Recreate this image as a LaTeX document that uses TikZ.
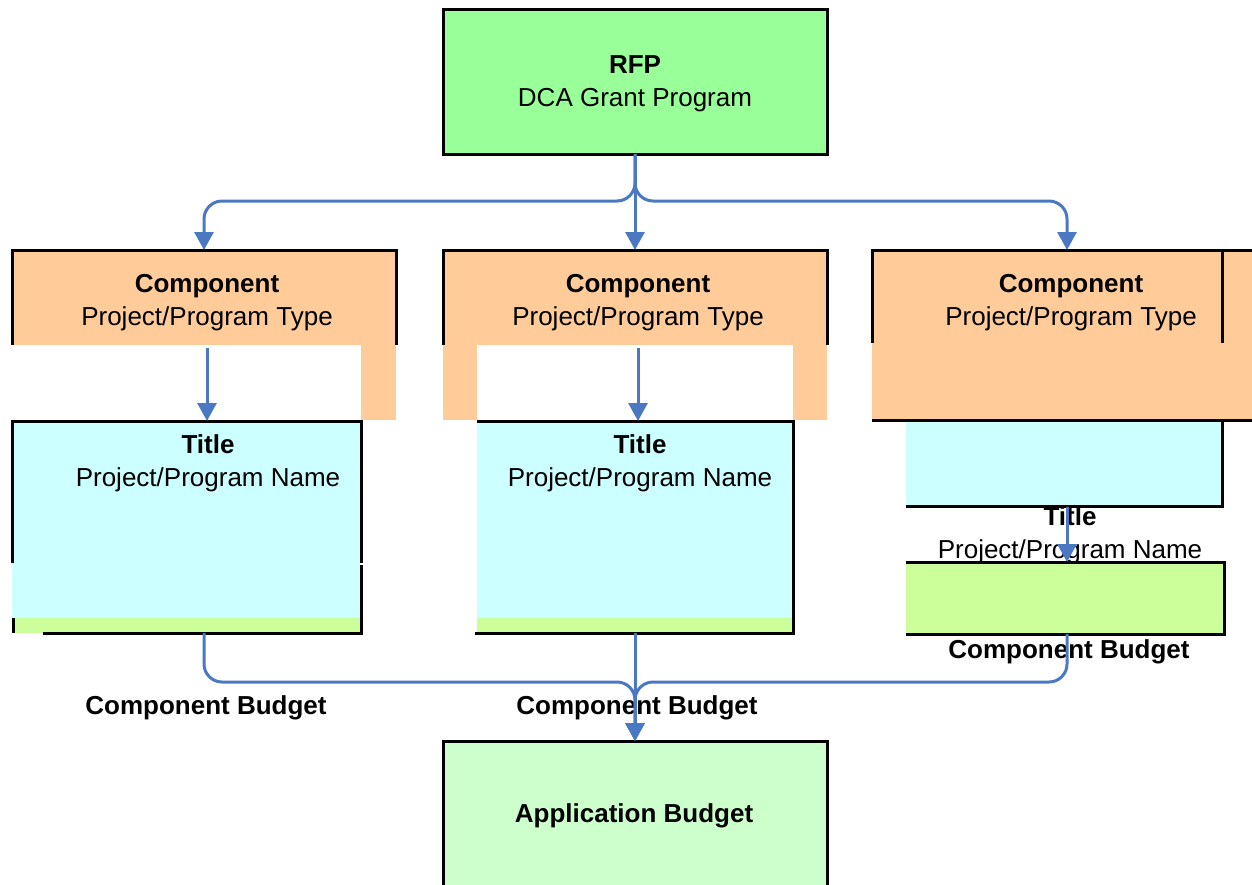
\documentclass[tikz,border=0pt]{standalone}
\usepackage{fontspec}
\setmainfont{Liberation Sans}
\usetikzlibrary{arrows.meta}
\definecolor{rfpg}{HTML}{99FF99}
\definecolor{compo}{HTML}{FFCC99}
\definecolor{titc}{HTML}{CCFFFF}
\definecolor{budg}{HTML}{CCFF99}
\definecolor{appg}{HTML}{CCFFCC}
\definecolor{arrowblue}{HTML}{4A78C2}
\tikzset{
  bord/.style={line width=3pt, draw=black},
  conn/.style={line width=3pt, draw=arrowblue, rounded corners=18pt, -{Triangle[length=18pt,width=19pt]}},
  lbl/.style={font=\fontsize{26}{33}\selectfont, align=center, inner sep=0pt},
  blbl/.style={font=\fontsize{26}{33}\selectfont\bfseries, align=center, inner sep=0pt},
  fillbox/.style={inner sep=0pt, outer sep=0pt, draw=none}
}
\begin{document}
\begin{tikzpicture}[x=1pt,y=-1pt]
\useasboundingbox (0,0) rectangle (1252,884);
% RFP
\node[fillbox, fill=rfpg, bord, minimum width=384pt, minimum height=145pt] (rfp) at (635,81.5) {};
\node[lbl] (rfpt) at (635,84) {\textbf{RFP}\\DCA Grant Program};
% Component 1
\node[fillbox, fill=compo, minimum width=384pt, minimum height=95pt] (c1) at (204,297.5) {};
\fill[compo] (361,345) rectangle (396,420);
\draw[bord] (c1.south west) -- (c1.north west) -- (c1.north east) -- (c1.south east);
\node[lbl] (c1t) at (207,303) {\textbf{Component}\\Project/Program Type};
% Component 2
\node[fillbox, fill=compo, minimum width=384pt, minimum height=95pt] (c2) at (635,297.5) {};
\fill[compo] (443,345) rectangle (477,420);
\fill[compo] (793,345) rectangle (827,420);
\draw[bord] (c2.south west) -- (c2.north west) -- (c2.north east) -- (c2.south east);
\node[lbl] (c2t) at (638,303) {\textbf{Component}\\Project/Program Type};
% Title 1
\node[fillbox, fill=titc, minimum width=349pt, minimum height=197pt] (t1) at (186.5,519.5) {};
\node[fillbox, fill=budg, minimum width=349pt, minimum height=15pt] (gb1) at (186.5,625.5) {};
\draw[bord] (12,563) -- (12,421) -- (361,421) -- (361,563);
\draw[bord] (361,565) -- (361,635);
\draw[bord] (13.5,618) -- (13.5,633);
\draw[bord] (43,633) -- (362,633);
\node[lbl] (t1t) at (208,463) {\textbf{Title}\\Project/Program Name};
% Title 2
\node[fillbox, fill=titc, minimum width=316pt, minimum height=197pt] (t2) at (635,519.5) {};
\node[fillbox, fill=budg, minimum width=316pt, minimum height=15pt] (gb2) at (635,625.5) {};
\draw[bord] (477,421) -- (793,421) -- (793,633) -- (475,633);
\node[lbl] (t2t) at (640,463) {\textbf{Title}\\Project/Program Name};
% Column 3
\node[fillbox, fill=titc, minimum width=316pt, minimum height=88pt] (t3) at (1064,463) {};
\draw[bord] (906,506) -- (1222,506) -- (1222,420);
\node[fillbox, fill=compo, minimum width=380pt, minimum height=170pt] (c3) at (1062,335) {};
\draw[bord] (872,343) -- (872,250) -- (1253,250);
\draw[bord] (1222,250) -- (1222,343);
\draw[bord] (872,420) -- (1253,420);
\node[lbl] (c3t) at (1071,303) {\textbf{Component}\\Project/Program Type};
\node[lbl] (t3t) at (1070,535.5) {\textbf{Title}\\Project/Program Name};
\node[fillbox, fill=budg, minimum width=318pt, minimum height=72pt] (g3) at (1065,598) {};
\draw[bord] (906,562) -- (1224,562) -- (1224,634) -- (906,634);
% Application budget
\node[fillbox, fill=appg, bord, minimum width=384pt, minimum height=146pt] (ab) at (635,814) {};
\node[blbl] (abt) at (634,816) {Application Budget};
% labels
\node[blbl] (cb1) at (206,708) {Component Budget};
\node[blbl] (cb2) at (637,708) {Component Budget};
\node[blbl] (cb3) at (1069,652) {Component Budget};
% connectors
\coordinate (jt) at (635,201);
\coordinate (jb) at (635,682);
\draw[conn] (rfp.south) -- (jt) -- (jt -| c1.north) -- (c1.north);
\draw[conn] (rfp.south) -- (c2.north);
\draw[conn] (rfp.south) -- (jt) -- ([xshift=-4pt]jt -| c3t.north) -- ([xshift=-4pt]c3t.north |- c3.north);
\draw[conn] ([yshift=-3pt]c1t.south |- c1.south) -- (c1t.south |- t1.north);
\draw[conn] ([yshift=-3pt]c2t.south |- c2.south) -- (c2t.south |- t2.north);
\draw[conn] ([xshift=3pt]t3.south) -- ([xshift=3pt]t3.south |- g3.north);
\draw[conn] (c1.south |- gb1.south) -- (c1.south |- jb) -- (jb) -- (ab.north);
\draw[conn] (gb2.south) -- (ab.north);
\draw[conn] ([xshift=2pt]g3.south) -- ([xshift=2pt]g3.south |- jb) -- (jb) -- (ab.north);
\end{tikzpicture}
\end{document}
